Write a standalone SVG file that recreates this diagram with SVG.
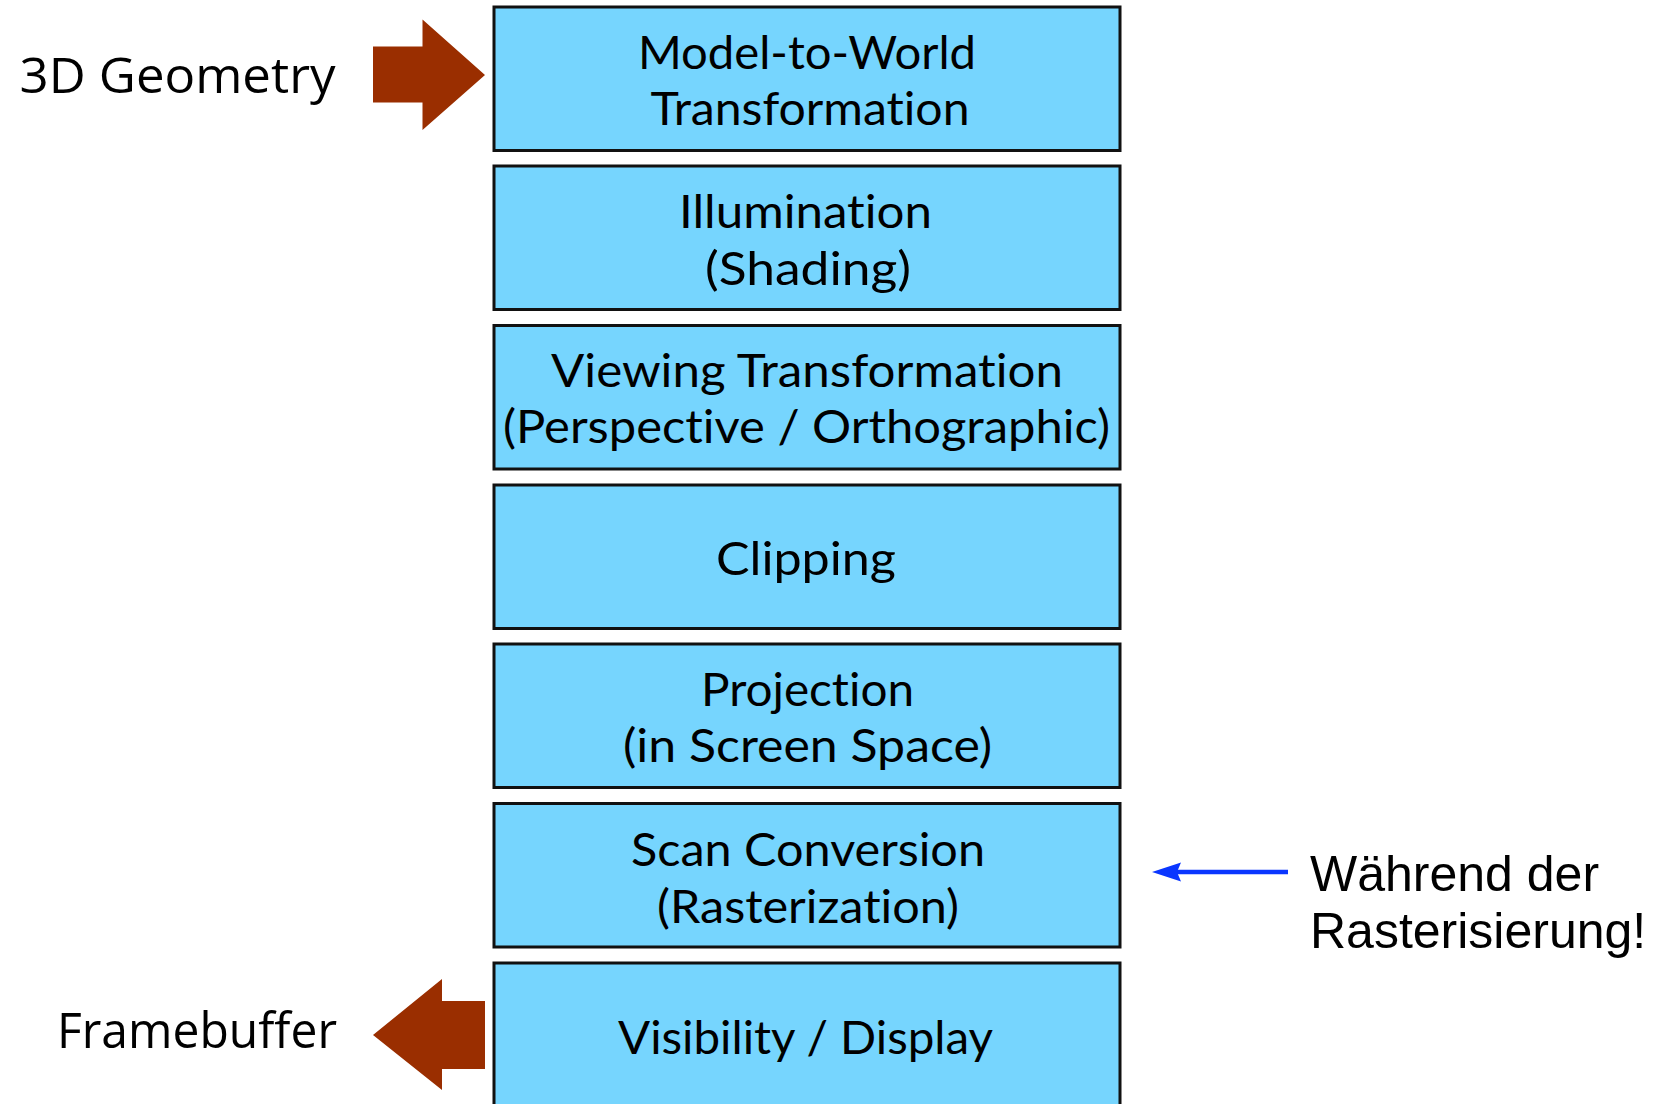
<svg xmlns="http://www.w3.org/2000/svg" width="1659" height="1104" viewBox="0 0 1659 1104">
  <style>
    .stage rect { fill: #76D5FE; stroke: #111; stroke-width: 3; }
    .stage text { font-family: Lato, "Open Sans", sans-serif; font-size: 46px; fill: #000; text-anchor: middle; font-variant-ligatures: none; }
    .label { font-family: "Open Sans", "Noto Sans", sans-serif; font-size: 50px; fill: #000; font-variant-ligatures: none; }
    .note { font-family: "Liberation Sans", Arial, sans-serif; font-size: 50px; fill: #000; }
    .fat { fill: #9A2E00; }
    .thin { stroke: #0A36FF; stroke-width: 4.5; fill: none; }
    .thinhead { fill: #0A36FF; }
  </style>
  <rect width="1659" height="1104" fill="#fff"/>

  <!-- pipeline stages -->
  <g id="model-to-world" class="stage">
    <rect x="494" y="7" width="626" height="143.5"/>
    <text x="807" y="69" textLength="338" lengthAdjust="spacingAndGlyphs">Model-to-World</text>
    <text x="810" y="124.5" textLength="319" lengthAdjust="spacingAndGlyphs">Transformation</text>
  </g>
  <g id="illumination" class="stage">
    <rect x="494" y="166" width="626" height="143.5"/>
    <text x="805.5" y="228" textLength="253" lengthAdjust="spacingAndGlyphs">Illumination</text>
    <text x="808" y="284.5" textLength="206" lengthAdjust="spacingAndGlyphs">(Shading)</text>
  </g>
  <g id="viewing" class="stage">
    <rect x="494" y="325.5" width="626" height="143.5"/>
    <text x="807" y="387" textLength="512" lengthAdjust="spacingAndGlyphs">Viewing Transformation</text>
    <text x="806.5" y="443" textLength="607" lengthAdjust="spacingAndGlyphs">(Perspective / Orthographic)</text>
  </g>
  <g id="clipping" class="stage">
    <rect x="494" y="485" width="626" height="143.5"/>
    <text x="806" y="575" textLength="180" lengthAdjust="spacingAndGlyphs">Clipping</text>
  </g>
  <g id="projection" class="stage">
    <rect x="494" y="644" width="626" height="143.5"/>
    <text x="807.5" y="706" textLength="213" lengthAdjust="spacingAndGlyphs">Projection</text>
    <text x="807.5" y="762" textLength="369" lengthAdjust="spacingAndGlyphs">(in Screen Space)</text>
  </g>
  <g id="scan-conversion" class="stage">
    <rect x="494" y="803.5" width="626" height="143.5"/>
    <text x="808" y="866" textLength="354" lengthAdjust="spacingAndGlyphs">Scan Conversion</text>
    <text x="808" y="922.5" textLength="302" lengthAdjust="spacingAndGlyphs">(Rasterization)</text>
  </g>
  <g id="visibility" class="stage">
    <rect x="494" y="963" width="626" height="160"/>
    <text x="805.5" y="1054" textLength="375" lengthAdjust="spacingAndGlyphs">Visibility / Display</text>
  </g>

  <!-- side labels -->
  <g id="input-label">
    <text class="label" x="19.5" y="93" textLength="316" lengthAdjust="spacingAndGlyphs">3D Geometry</text>
  </g>
  <g id="output-label">
    <text class="label" x="57" y="1048" textLength="280" lengthAdjust="spacingAndGlyphs">Framebuffer</text>
  </g>
  <g id="note">
    <text class="note" x="1310" y="891">Während der</text>
    <text class="note" x="1310" y="948">Rasterisierung!</text>
  </g>

  <!-- connectors -->
  <g id="connectors">
    <polygon class="fat" points="373,46.5 422.5,46.5 422.5,19.5 485,75 422.5,130 422.5,102.5 373,102.5"/>
    <polygon class="fat" points="485,1001 442,1001 442,979 373,1035 442,1090 442,1069 485,1069"/>
    <line class="thin" x1="1288" y1="872" x2="1176" y2="872"/>
    <polygon class="thinhead" points="1152,872 1181,862.5 1177,872 1181,881.5"/>
  </g>
</svg>
